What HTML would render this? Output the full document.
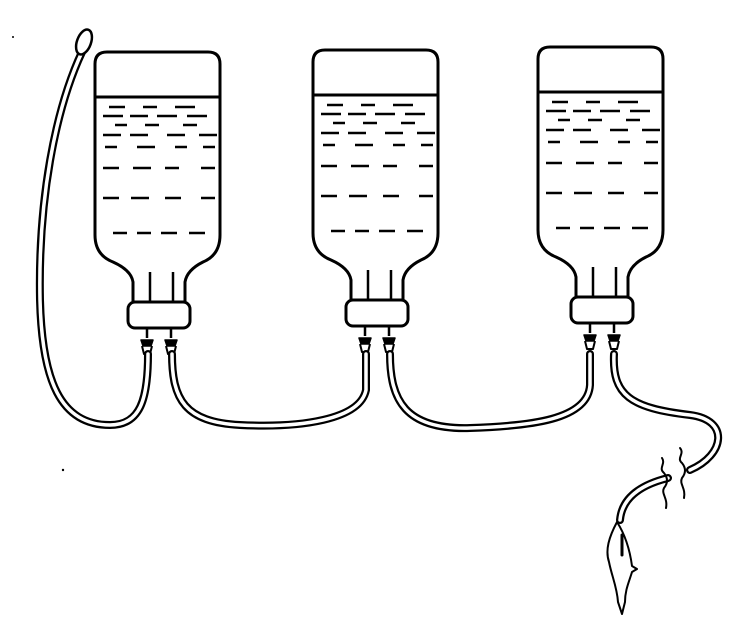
<!DOCTYPE html>
<html><head><meta charset="utf-8"><style>html,body{margin:0;padding:0;background:#fff}svg{display:block}</style></head>
<body>
<svg width="747" height="633" viewBox="0 0 747 633" xmlns="http://www.w3.org/2000/svg">
<defs>
<g id="bottle" fill="none" stroke="#000" stroke-width="3" stroke-linejoin="round">
  <path d="M0,14 Q0,2 12,2 L113,2 Q125,2 125,14 L125,185 Q125,205 108,212 Q92,220 90,232 L90,252 L38,252 L38,232 Q36,220 18,212 Q0,205 0,185 Z" fill="#fff"/>
  <line x1="0" y1="47" x2="125" y2="47"/>
  <line x1="55" y1="222" x2="55" y2="252" stroke-width="2.5"/>
  <line x1="78" y1="222" x2="78" y2="252" stroke-width="2.5"/>
  <rect x="33" y="252" width="62" height="26" rx="7" fill="#fff"/>
  <g stroke-width="2.5">
    <path d="M14,57h16M48,57h14M80,57h20M8,66h20M35,66h18M62,66h20M92,66h20M20,75h12M50,75h14M88,75h14M8,85h18M35,85h18M72,85h18M104,85h18M10,97h12M42,97h18M80,97h12M108,97h12M8,118h16M38,118h18M70,118h14M106,118h14M8,148h16M36,148h18M70,148h16M106,148h14M18,183h14M42,183h14M66,183h16M94,183h16"/>
  </g>
  <g stroke-width="2.5">
    <path d="M52,278 l0,10 M76,278 l0,10"/>
  </g>
  <path d="M46,290 h12 l-2,6 h-8 Z M70,290 h12 l-2,6 h-8 Z" fill="#000" stroke-width="1.5"/>
  <path d="M47,296 l2,8 h6 l2,-8 M71,296 l2,8 h6 l2,-8" stroke-width="2"/>
</g>
</defs>
<use href="#bottle" x="95" y="50"/>
<use href="#bottle" x="313" y="48"/>
<use href="#bottle" x="538" y="45"/>

<g fill="none" stroke-linecap="round" stroke-linejoin="round">
  <g stroke="#000" stroke-width="8">
    <path d="M148,354 C148,400 140,425 110,425 C60,425 42,380 40,300 C38,200 55,110 82,52"/>
    <path d="M172,354 C172,400 185,422 240,425 C300,428 360,420 366,390 L366,354"/>
    <path d="M390,354 C390,400 405,430 470,428 C530,426 588,420 590,385 L590,354"/>
    <path d="M614,354 C612,395 630,408 690,415 C730,420 725,455 690,470"/>
    <path d="M668,478 C640,485 622,498 620,520"/>
  </g>
  <g stroke="#fff" stroke-width="3.5">
    <path d="M148,354 C148,400 140,425 110,425 C60,425 42,380 40,300 C38,200 55,110 82,52"/>
    <path d="M172,354 C172,400 185,422 240,425 C300,428 360,420 366,390 L366,354"/>
    <path d="M390,354 C390,400 405,430 470,428 C530,426 588,420 590,385 L590,354"/>
    <path d="M614,354 C612,395 630,408 690,415 C730,420 725,455 690,470"/>
    <path d="M668,478 C640,485 622,498 620,520"/>
  </g>
  <ellipse cx="84" cy="42" rx="7" ry="13" transform="rotate(20 84 42)" fill="#fff" stroke="#000" stroke-width="2.5"/>
  <g stroke="#000" stroke-width="2">
    <path d="M680,448 c5,6 -4,10 2,15 c4,5 4,10 0,15 c-3,6 4,10 2,20"/>
    <path d="M662,458 c4,6 -4,10 2,15 c4,5 4,10 0,15 c-3,6 4,10 2,20"/>
    <path d="M617,522 c-8,15 -12,28 -8,40 c3,15 8,25 9,40 l4,12 l3,-12 c0,-12 4,-20 7,-30 l5,-3 l-5,-3 c-2,-15 -6,-30 -15,-44"/>
    <path d="M622,535 l0,20" stroke-width="3"/>
  </g>
</g>
<circle cx="13" cy="37" r="1" fill="#000"/>
<circle cx="63" cy="470" r="1.2" fill="#000"/>
</svg>
</body></html>
